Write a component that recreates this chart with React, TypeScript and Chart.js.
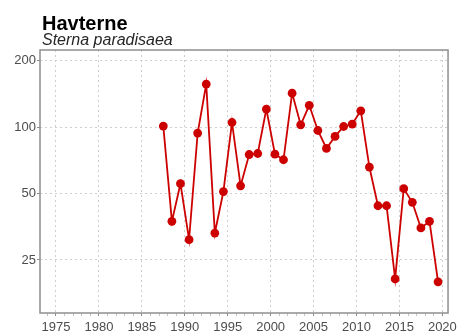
import React, { useEffect, useRef } from "react";
import { Chart, registerables } from "chart.js";

Chart.register(...registerables);

const TITLE = "Havterne";
const SUBTITLE = "Sterna paradisaea";

const years = [
  1987, 1988, 1989, 1990, 1991, 1992, 1993, 1994, 1995, 1996, 1997,
  1998, 1999, 2000, 2001, 2002, 2003, 2004, 2005, 2006, 2007, 2008,
  2009, 2010, 2011, 2012, 2013, 2014, 2015, 2016, 2017, 2018, 2019,
];
const values = [
  101, 37.4, 55.4, 30.9, 93.9, 156.6, 33.1, 51, 104.9, 54.2, 75.1,
  75.9, 120.6, 75.4, 71.1, 142.5, 102.4, 125.5, 96.5, 80, 90.7, 100.6,
  103.2, 118.5, 65.9, 44, 44, 20.5, 52.6, 45.6, 34.9, 37.4, 19.9,
];
const yTickValues = [25, 50, 100, 200];
const xTickStep = 5;

const FONT = '"Liberation Sans", Arial, Helvetica, sans-serif';

const framePlugin = {
  id: "frameAndTitles",
  beforeDatasetsDraw(chart: any) {
    const { ctx, chartArea: a } = chart;
    ctx.save();
    ctx.strokeStyle = "#8f8f8f";
    ctx.lineWidth = 1.5;
    ctx.strokeRect(a.left, a.top, a.right - a.left, a.bottom - a.top);
    ctx.restore();
  },
  afterDraw(chart: any) {
    const { ctx, chartArea: a } = chart;
    ctx.save();
    ctx.textAlign = "left";
    ctx.textBaseline = "alphabetic";
    ctx.fillStyle = "#000000";
    ctx.font = `bold 20px ${FONT}`;
    ctx.fillText(TITLE, a.left + 2, 30);
    ctx.fillStyle = "#262626";
    ctx.font = `italic 16px ${FONT}`;
    ctx.fillText(SUBTITLE, a.left + 2, 45);
    ctx.restore();
  },
};

export default function App() {
  const ref = useRef<HTMLCanvasElement | null>(null);

  useEffect(() => {
    if (!ref.current) return;
    const data = years.map((y, i) => ({ x: y + 0.5, y: values[i] }));
    const chart = new Chart(ref.current, {
      type: "line",
      data: {
        datasets: [
          {
            data,
            borderColor: "#CD0000",
            backgroundColor: "#CD0000",
            borderWidth: 1.8,
            pointRadius: 4.4,
            pointBorderWidth: 0,
            pointBackgroundColor: "#CD0000",
            tension: 0,
          },
        ],
      },
      options: {
        responsive: false,
        animation: false,
        events: [],
        layout: { padding: { top: 50, right: 12, left: 0, bottom: 0 } },
        plugins: {
          legend: { display: false },
          tooltip: { enabled: false },
          title: { display: false },
        },
        scales: {
          x: {
            type: "linear",
            min: 1973.14,
            max: 2020.66,
            afterFit(scale: any) {
              scale.height = 20;
            },
            ticks: {
              stepSize: 1,
              autoSkip: false,
              includeBounds: false,
              maxRotation: 0,
              minRotation: 0,
              padding: 4,
              color: "#4d4d4d",
              font: { family: FONT, size: 13 },
              callback: (v: any) =>
                Number(v) % xTickStep === 0 ? String(v) : "",
            },
            grid: {
              color: (c: any) =>
                c.tick && c.tick.value % xTickStep === 0
                  ? "#cfcfcf"
                  : "rgba(0,0,0,0)",
              lineWidth: 1,
              tickLength: 3,
              tickColor: (c: any) =>
                c.tick && c.tick.value % xTickStep === 0
                  ? "#8c8c8c"
                  : "#c4c4c4",
              tickWidth: 1,
            },
            border: { display: false, dash: [2, 3] },
          },
          y: {
            type: "logarithmic",
            min: 14.37,
            max: 223.5,
            afterFit(scale: any) {
              scale.width = 40;
            },
            afterBuildTicks(scale: any) {
              scale.ticks = yTickValues.map((v) => ({ value: v }));
            },
            ticks: {
              padding: 1,
              color: "#4d4d4d",
              font: { family: FONT, size: 13 },
              callback: (v: any) => String(v),
            },
            grid: {
              color: "#cfcfcf",
              lineWidth: 1,
              tickLength: 3,
              tickColor: "#8c8c8c",
            },
            border: { display: false, dash: [2, 3] },
          },
        },
      },
      plugins: [framePlugin],
    });
    return () => chart.destroy();
  }, []);

  return (
    <div
      style={{
        position: "absolute",
        left: 0,
        top: 0,
        width: 461,
        height: 333,
        background: "#ffffff",
      }}
    >
      <canvas ref={ref} width={461} height={333} />
    </div>
  );
}
